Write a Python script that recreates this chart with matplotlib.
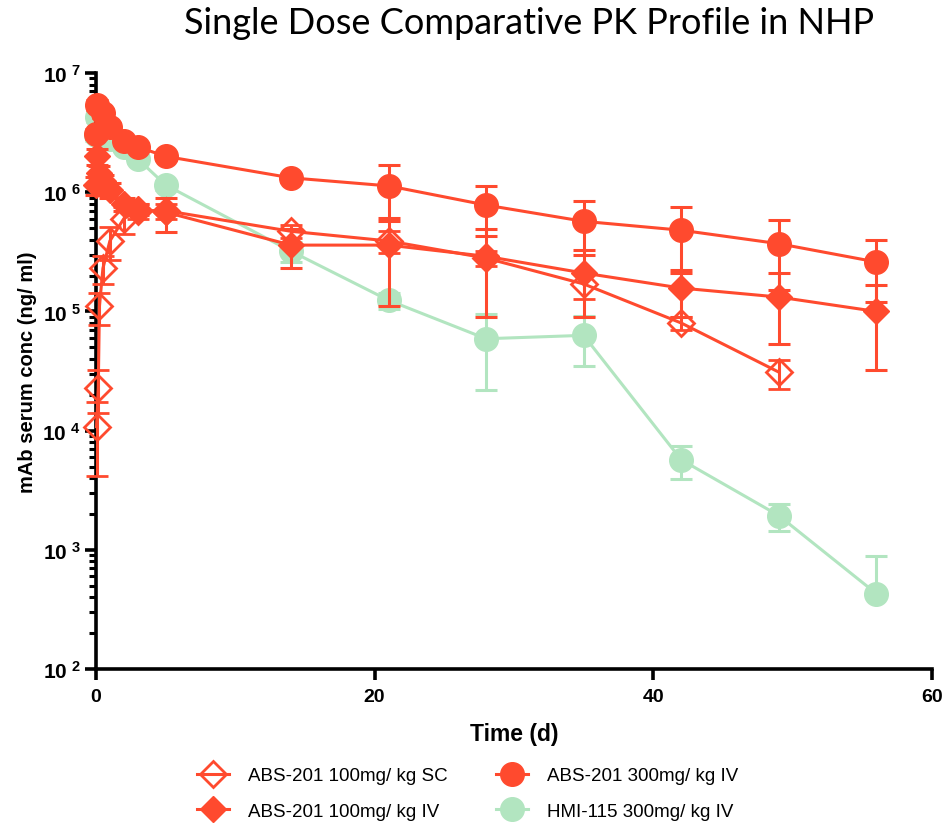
import numpy as np
import matplotlib
matplotlib.use("Agg")
import matplotlib.pyplot as plt
from matplotlib.lines import Line2D
from matplotlib.ticker import LogLocator, FixedLocator, FixedFormatter, NullFormatter

plt.rcParams['font.family'] = ['Liberation Sans', 'DejaVu Sans']
plt.rcParams['mathtext.fontset'] = 'custom'
plt.rcParams['mathtext.bf'] = 'Liberation Sans:bold'
plt.rcParams['mathtext.rm'] = 'Liberation Sans:bold'

# ABS-201 100 mg/kg SC
t_sc = [0.042, 0.167, 0.25, 0.5, 1, 2, 3, 5, 14, 21, 28, 35, 42, 49]
sc_mean = [1.08e4, 2.3e4, 1.1e5, 2.3e5, 3.9e5, 6.0e5, 7.0e5, 7.0e5, 4.7e5, 3.9e5, 2.8e5, 1.7e5, 8.0e4, 3.1e4]
sc_sd = [6.6e3, 9e3, 3.3e4, 6e4, 1.2e5, 1.5e5, 1e5, 1e5, 6e4, 8e4, 4e4, 4.2e4, 1e4, 8.5e3]

# ABS-201 100 mg/kg IV
t_iv100 = [0.02, 0.083, 0.25, 0.5, 1, 2, 3, 5, 14, 21, 28, 35, 42, 49, 56]
iv100_mean = [1.15e6, 2.0e6, 1.45e6, 1.25e6, 1.05e6, 8.0e5, 7.2e5, 6.8e5, 3.6e5, 3.6e5, 2.9e5, 2.1e5, 1.57e5, 1.32e5, 1.0e5]
iv100_sd = [2e5, 3e5, 2e5, 1.5e5, 1.5e5, 1e5, 8e4, 2.2e5, 1.3e5, 2.5e5, 2.0e5, 1.2e5, 6.7e4, 7.9e4, 6.8e4]

# ABS-201 300 mg/kg IV
t_iv300 = [0.02, 0.083, 0.5, 1, 2, 3, 5, 14, 21, 28, 35, 42, 49, 56]
iv300_mean = [3.1e6, 5.4e6, 4.6e6, 3.5e6, 2.7e6, 2.4e6, 2.0e6, 1.32e6, 1.13e6, 7.8e5, 5.7e5, 4.8e5, 3.7e5, 2.6e5]
iv300_sd = [3e5, 5e5, 4e5, 3e5, 2e5, 2e5, 1.5e5, 1e5, 5.6e5, 3.5e5, 2.7e5, 2.7e5, 2.2e5, 1.4e5]

# HMI-115 300 mg/kg IV
t_hmi = [0.02, 0.083, 0.5, 1, 2, 3, 5, 14, 21, 28, 35, 42, 49, 56]
hmi_mean = [3.0e6, 4.3e6, 3.6e6, 2.8e6, 2.4e6, 1.9e6, 1.15e6, 3.2e5, 1.24e5, 5.9e4, 6.3e4, 5.7e3, 1.94e3, 4.3e2]
hmi_sd = [3e5, 4e5, 3e5, 2e5, 2e5, 1.5e5, 1e5, 6e4, 2e4, 3.7e4, 2.8e4, 1.8e3, 5e2, 4.5e2]

labels = ['ABS-201 100mg/ kg SC', 'ABS-201 100mg/ kg IV', 'ABS-201 300mg/ kg IV', 'HMI-115 300mg/ kg IV']

red = '#FF4A2E'
green = '#B2E5C0'


def yerr(mean, sd):
    mean = np.array(mean)
    sd = np.array(sd)
    lo = np.where(sd < mean, sd, 0)
    return [lo, sd]


fig = plt.figure(figsize=(9.5, 8.28), dpi=100)
ax = fig.add_axes([0.101, 0.1908, 0.880, 0.7198])

common = dict(capsize=8, elinewidth=2.2, capthick=2.2, lw=2.2, clip_on=False)

h_hmi = ax.errorbar(t_hmi, hmi_mean, yerr=yerr(hmi_mean, hmi_sd), color=green, marker='o',
                    ms=17, mec=green, zorder=2, **common)
h300 = ax.errorbar(t_iv300, iv300_mean, yerr=yerr(iv300_mean, iv300_sd), color=red, marker='o',
                   ms=17, mec=red, zorder=3, **common)
h100 = ax.errorbar(t_iv100, iv100_mean, yerr=yerr(iv100_mean, iv100_sd), color=red, marker='D',
                   ms=13, mec=red, zorder=4, **common)
hsc = ax.errorbar(t_sc, sc_mean, yerr=yerr(sc_mean, sc_sd), color=red, marker='D',
                  ms=13, mfc='none', mec=red, mew=2, zorder=5, **common)

for h in (h_hmi, h300, h100, hsc):
    for part in h.lines[1] + h.lines[2]:
        part.set_clip_on(False)

ax.set_yscale('log')
ax.set_ylim(1e2, 1e7)
ax.set_xlim(0, 60)

ax.yaxis.set_major_locator(FixedLocator([1e2, 1e3, 1e4, 1e5, 1e6, 1e7]))
ax.yaxis.set_major_formatter(FixedFormatter([r'$\mathbf{10^{\ %d}}$' % k for k in range(2, 8)]))
ax.yaxis.set_minor_locator(LogLocator(base=10, subs=np.arange(2, 10), numticks=20))
ax.yaxis.set_minor_formatter(NullFormatter())
ax.set_xticks([0, 20, 40, 60])

for s in ('top', 'right'):
    ax.spines[s].set_visible(False)
for s in ('left', 'bottom'):
    ax.spines[s].set_linewidth(2.6)

ax.tick_params(axis='y', which='major', length=8, width=2.6, labelsize=15, pad=3)
ax.tick_params(axis='y', which='minor', length=5, width=2.2)
ax.tick_params(axis='x', which='major', length=8, width=2.6, labelsize=14, pad=6)
for lab in ax.get_xticklabels():
    lab.set_fontweight('bold')

ax.set_xlabel('Time (d)', fontsize=16.5, fontweight='bold', labelpad=12)
ax.set_ylabel('mAb serum conc (ng/ ml)', fontsize=14.5, fontweight='bold', labelpad=4)

fig.text(0.557, 0.972, 'Single Dose Comparative PK Profile in NHP', fontsize=26,
         family=['Lato', 'DejaVu Sans'], ha='center', va='center')

handles = [
    Line2D([], [], color=red, lw=2.2, marker='D', ms=13, mfc='none', mec=red, mew=2),
    Line2D([], [], color=red, lw=2.2, marker='D', ms=13, mec=red),
    Line2D([], [], color=red, lw=2.2, marker='o', ms=17, mec=red),
    Line2D([], [], color=green, lw=2.2, marker='o', ms=17, mec=green),
]
fig.legend(handles=handles, labels=labels, loc='lower center', bbox_to_anchor=(0.492, -0.012),
           ncol=2, frameon=False, fontsize=13.5, handlelength=1.7, columnspacing=2.6,
           labelspacing=1.0, handletextpad=1.0)

fig.savefig('out.png', dpi=100)
